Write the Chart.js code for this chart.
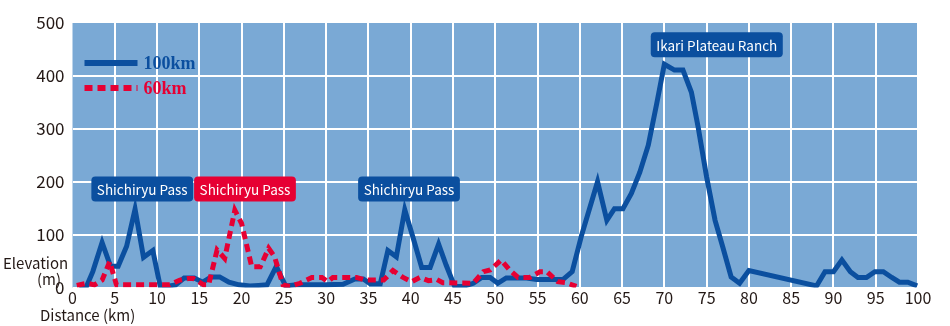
<!DOCTYPE html>
<html>
<head>
<meta charset="utf-8">
<script src="https://cdn.jsdelivr.net/npm/chart.js@4/dist/chart.umd.min.js"></script>
<style>
  html, body { margin: 0; padding: 0; background: #fff; }
  #wrap { width: 950px; height: 326px; position: relative; }
</style>
</head>
<body>
<div id="wrap"><canvas id="chartPerfil"></canvas></div>
<script>
// Distancia (km) y elevación (m) de cada recorrido
const km100 = [0.8, 1.6, 2.4, 3.5, 4.5, 5.4, 6.4, 7.4, 8.4, 9.5, 10.4, 12.2, 13.2, 14.4, 15.4, 16.4, 17.4, 18.5, 19.7, 21, 22, 23, 24.1, 25.2, 26.5, 28, 30, 32, 33.4, 34.4, 35.2, 36.4, 37.3, 38.3, 39.3, 40.3, 41.3, 42.3, 43.3, 44.2, 45.2, 46.2, 47.4, 48.4, 49.4, 50.3, 51.3, 52.5, 53.7, 54.9, 56, 57.2, 58, 59.1, 60.2, 62.1, 63.2, 64.1, 65.1, 66.1, 67.1, 68.1, 69.1, 70, 71.2, 72.2, 73.2, 74, 75, 76, 76.9, 77.9, 78.9, 80, 88, 89, 90, 91, 92, 92.9, 93.9, 94.9, 95.9, 96.9, 97.8, 98.8, 99.9];
const elev100 = [0, 0, 30, 85, 40, 40, 78, 148, 57, 70, 0, 5, 18, 18, 10, 20, 20, 10, 5, 3, 4, 5, 40, 3, 5, 5, 5, 6, 16, 16, 7, 7, 70, 58, 147, 93, 38, 38, 82, 42, 2, 2, 8, 19, 19, 8, 18, 18, 18, 15, 15, 15, 15, 30, 98, 200, 127, 149, 149, 178, 218, 269, 348, 422, 411, 411, 369, 303, 209, 127, 77, 20, 8, 32, 3, 30, 30, 52, 30, 19, 19, 30, 30, 19, 10, 10, 3];

const km60 = [0.5, 1.7, 2.6, 3.5, 4.4, 5.2, 11.5, 12.7, 13.7, 14.3, 15.5, 16.1, 17.1, 18, 19.2, 20, 21.2, 22.2, 23.2, 23.9, 24.9, 25.7, 26.9, 28.3, 29.5, 30.2, 30.8, 32.4, 33.6, 34.6, 36.8, 37.9, 39.1, 40.1, 41.1, 42.1, 43.1, 43.8, 47.4, 48.6, 49.4, 50.7, 51.7, 52.7, 54.1, 55.3, 56.1, 57.4, 58.4, 59.6];
const elev60 = [4, 8, 5, 14, 49, 5, 5, 14, 17, 17, 5, 5, 71, 55, 146, 121, 39, 39, 74, 58, 5, 2, 8, 19, 19, 11, 19, 19, 19, 14, 14, 32, 19, 11, 19, 13, 15, 9, 8, 30, 33, 52, 33, 19, 19, 30, 30, 11, 9, 2];

const nombresSeries = ['100km', '60km'];
const ticksY = [0, 100, 200, 300, 400, 500];
const ticksX = [0, 5, 10, 15, 20, 25, 30, 35, 40, 45, 50, 55, 60, 65, 70, 75, 80, 85, 90, 95, 100];

// Etiquetas de puntos (texto, km, elevación)
const etiquetasTexto = ['Shichiryu Pass', 'Shichiryu Pass', 'Shichiryu Pass', 'Ikari Plateau Ranch'];
const etiquetasKm = [8.25, 20.4, 39.8, 76.2];
const etiquetasElev = [186, 186, 186, 459];

const AZUL = '#0b4f9f';
const ROJO = '#e60033';
const FONDO = '#7aa9d5';
const etiquetasColor = [AZUL, ROJO, AZUL, AZUL];
const fuente = '"Noto Sans CJK JP", "Noto Sans", sans-serif';

const aPuntos = (xs, ys) => xs.map((x, i) => ({ x: x, y: ys[i] }));

const pluginFondo = {
    id: 'fondo',
    beforeDraw(chart) {
        const { ctx, chartArea: a } = chart;
        ctx.save();
        ctx.fillStyle = FONDO;
        ctx.fillRect(a.left, a.top, a.right - a.left, a.bottom - a.top);
        ctx.restore();
    }
};

const pluginTextos = {
    id: 'textos',
    afterDraw(chart) {
        const { ctx, scales } = chart;
        const sx = scales.x, sy = scales.y;
        ctx.save();

        // Cajas de etiquetas
        ctx.font = '13.5px ' + fuente;
        ctx.textAlign = 'center';
        ctx.textBaseline = 'middle';
        etiquetasTexto.forEach((t, i) => {
            const cx = sx.getPixelForValue(etiquetasKm[i]);
            const cy = sy.getPixelForValue(etiquetasElev[i]);
            const w = ctx.measureText(t).width + 11;
            const h = 25;
            ctx.fillStyle = etiquetasColor[i];
            ctx.beginPath();
            ctx.roundRect(cx - w / 2, cy - h / 2, w, h, 4);
            ctx.fill();
            ctx.fillStyle = '#ffffff';
            ctx.fillText(t, cx, cy + 1);
        });

        // Leyenda
        const lx = sx.left + 12;
        chart.data.datasets.forEach((ds, i) => {
            const ly = sy.top + 40 + i * 25;
            ctx.strokeStyle = ds.borderColor;
            ctx.lineWidth = 6;
            ctx.setLineDash(ds.borderDash || []);
            ctx.beginPath();
            ctx.moveTo(lx, ly);
            ctx.lineTo(lx + 53, ly);
            ctx.stroke();
            ctx.setLineDash([]);
            ctx.fillStyle = ds.borderColor;
            ctx.font = 'bold 18px "Liberation Serif", serif';
            ctx.textAlign = 'left';
            ctx.fillText(ds.label, lx + 59, ly + 1);
        });

        // Títulos de ejes
        ctx.fillStyle = '#231815';
        ctx.font = '15px ' + fuente;
        ctx.textAlign = 'left';
        ctx.fillText('Elevation', 3, 263);
        ctx.fillText('(m)', 37, 279);
        ctx.fillText('Distance (km)', 40, 315);
        ctx.restore();
    }
};

const chartPerfil = new Chart(document.getElementById('chartPerfil'), {
    type: 'line',
    data: {
        datasets: [
            {
                label: nombresSeries[0],
                data: aPuntos(km100, elev100),
                borderColor: AZUL,
                borderWidth: 5,
                borderJoinStyle: 'miter',
                pointRadius: 0,
                tension: 0,
                order: 2
            },
            {
                label: nombresSeries[1],
                data: aPuntos(km60, elev60),
                borderColor: ROJO,
                borderWidth: 5,
                borderDash: [8, 5],
                borderJoinStyle: 'miter',
                pointRadius: 0,
                tension: 0,
                order: 1
            }
        ]
    },
    options: {
        responsive: true,
        maintainAspectRatio: false,
        animation: false,
        layout: { padding: { top: 23, right: 32, left: 0, bottom: 0 } },
        plugins: { legend: { display: false }, tooltip: { enabled: false } },
        scales: {
            x: {
                type: 'linear',
                min: 0, max: 100,
                afterBuildTicks: (s) => { s.ticks = ticksX.map(v => ({ value: v })); },
                afterFit: (s) => { s.height = 38.5; },
                grid: {
                    color: (c) => c.tick && c.tick.value === 0 ? 'rgba(0,0,0,0)' : '#ffffff',
                    lineWidth: 2,
                    drawTicks: false
                },
                border: { display: false },
                ticks: { color: '#231815', font: { family: fuente, size: 16 }, padding: 1, maxRotation: 0, autoSkip: false }
            },
            y: {
                min: 0, max: 500,
                afterBuildTicks: (s) => { s.ticks = ticksY.map(v => ({ value: v })); },
                afterFit: (s) => { s.width = 72.5; },
                grid: {
                    color: (c) => c.tick && c.tick.value === 500 ? 'rgba(0,0,0,0)' : '#ffffff',
                    lineWidth: 2,
                    drawTicks: false
                },
                border: { display: false },
                ticks: { color: '#231815', font: { family: fuente, size: 17 }, padding: 8 }
            }
        }
    },
    plugins: [pluginFondo, pluginTextos]
});
</script>
</body>
</html>
